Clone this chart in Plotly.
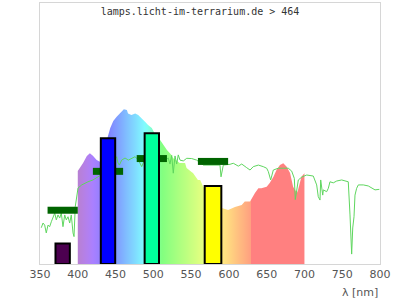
import plotly.graph_objects as go

# ---------------- data ----------------
# lamp spectrum (relative, 0..100)
lamp_nm = [400, 403, 407, 412, 416, 420, 425, 430, 435, 440, 443, 447, 451.5, 456, 461, 465,
           466.5, 471, 476, 480, 484.6, 489, 493, 498, 504, 509, 518, 524, 526, 535, 542, 544,
           551, 552.5, 559, 562, 566, 575, 583, 590.5, 599, 608, 617, 621, 628, 634.5, 639,
           643, 650, 654, 659, 663, 667.6, 672, 676.5, 681, 685, 690, 691.5, 696, 700]
lamp_val = [35.6, 36.8, 38.7, 41.4, 42.4, 41.5, 39.8, 39.1, 43.7, 49.0, 52.1, 54.8, 56.4, 57.9,
            59.3, 59.0, 57.7, 57.1, 57.7, 57.1, 55.9, 54.5, 53.3, 52.1, 48.8, 47.5, 43.7, 41.8,
            40.6, 38.7, 38.7, 36.8, 35.2, 34.9, 32.2, 32.2, 29.6, 26.4, 23.8, 21.5, 20.7, 21.8,
            22.6, 23.9, 23.9, 27.2, 29.0, 29.0, 29.6, 31.0, 33.4, 36.0, 37.9, 38.6, 37.3, 34.9,
            29.6, 27.2, 28.4, 33.4, 34.8]

# reference (sun) spectrum
sun_nm = [351.7, 354, 356.2, 358.3, 360.6, 362.8, 365, 367.2, 369.5, 371.6, 373.8, 376.1, 378.2,
          380.4, 382.7, 384.8, 387.1, 389.3, 391.4, 393.7, 395, 396.7, 399, 400.3, 405.2, 409.6,
          413.5, 420.1, 425, 430, 440, 451.5, 453.2, 455, 458.1, 462.5, 466.9, 471.4, 475.7,
          480, 484.6, 490, 500, 512.8, 519.8, 522, 524.3, 526.4, 528.7, 530.9, 533, 535.3,
          539.7, 544.2, 550.8, 557.4, 566.1, 575, 588.2, 589.6, 592.6, 601.5, 605.8, 612.5, 617,
          623.6, 628, 632.3, 639, 645.5, 650, 652.2, 655.3, 658.8, 665.4, 672, 678.6, 683.1,
          686.6, 687.9, 691.9, 696.4, 703, 711.7, 716.2, 718.3, 720.6, 721.5, 722.8, 724.2, 725,
          729.4, 731.6, 733.8, 738.2, 742.7, 749.3, 758, 760.3, 761.6, 762.5, 763.9, 765.6,
          766.9, 769.1, 771.3, 777.9, 784.5, 789, 793.4, 799.1]
sun_val = [13.9, 15.7, 14.9, 11.9, 14.9, 14.3, 16.2, 18.1, 19.5, 16.9, 18.8, 17.6, 19.5,
           14.3, 18.8, 16.9, 18.1, 15.7, 18.8, 11.9, 10.5, 22.0, 27.2, 29.1, 30.3, 31.0,
           31.5, 32.2, 33.0, 34.0, 36.0, 41.1, 38.7, 37.9, 39.8, 40.6, 39.8, 40.6, 41.1,
           40.0, 37.3, 41.0, 41.0, 39.2, 40.6, 38.3, 41.6, 34.8, 41.4, 38.3, 41.8, 39.8,
           39.5, 40.5, 40.4, 39.8, 37.9, 37.9, 37.9, 33.4, 37.9, 38.2, 38.6, 37.5, 38.3,
           36.9, 36.0, 37.3, 37.9, 37.3, 36.7, 35.4, 32.2, 36.0, 36.7, 36.7, 36.7, 35.6,
           32.8, 24.7, 32.2, 33.3, 34.1, 33.7, 30.3, 25.8, 24.5, 32.2, 29.0, 26.4, 28.4,
           27.7, 29.0, 31.5, 31.1, 31.8, 32.2, 31.5, 18.8, 5.4, 3.8, 13.8, 18.1,
           26.4, 29.0, 30.3, 30.3, 29.9, 29.0, 28.4, 28.6]

# LED bars
bar_nm = [380, 440, 498, 579]
bar_val = [7.9, 48.2, 50.1, 29.9]
bar_width = [19, 19, 19, 22]
bar_colors = ["#4c0050", "#0000ff", "#00ff9c", "#ffff00"]

# horizontal markers (+/- half width around each bar)
seg_half = 20
seg_val = [20.6, 35.5, 40.4, 39.3]

x_ticks = [350, 400, 450, 500, 550, 600, 650, 700, 750, 800]
title_text = "lamps.licht-im-terrarium.de > 464"
x_label = "λ [nm]"


# ---------------- colours ----------------
def wl_color(l):
    if l >= 629:
        return "rgb(255,128,128)"
    if l < 440:
        r, g, b = -(l - 440) / 60, 0.0, 1.0
    elif l < 490:
        r, g, b = 0.0, (l - 440) / 50, 1.0
    elif l < 510:
        r, g, b = 0.0, 1.0, -(l - 510) / 20
    elif l < 580:
        r, g, b = (l - 510) / 70, 1.0, 0.0
    elif l < 645:
        r, g, b = 1.0, -(l - 645) / 65, 0.0
    else:
        r, g, b = 1.0, 0.0, 0.0
    f = 0.3 + 0.7 * (l - 380) / 40 if l < 420 else 1.0
    c = [int(round(255 * (0.5 + 0.5 * v * f))) for v in (r, g, b)]
    return "rgb(%d,%d,%d)" % tuple(c)


stops = []
lam = 400
while lam <= 628:
    stops.append([(lam - 400) / 300, wl_color(lam)])
    lam += 4
stops.append([(628.9 - 400) / 300, wl_color(628.9)])
stops.append([(629 - 400) / 300, wl_color(629)])
stops.append([1.0, wl_color(700)])

fig = go.Figure()

fig.add_trace(go.Scatter(
    x=lamp_nm, y=lamp_val, mode="lines", line=dict(width=0),
    fill="tozeroy",
    fillgradient=dict(type="horizontal", colorscale=stops, start=400, stop=700),
    hoverinfo="skip", showlegend=False))

fig.add_trace(go.Scatter(
    x=sun_nm, y=sun_val, mode="lines", line=dict(color="#5fd65f", width=1),
    showlegend=False))

for c, v in zip(bar_nm, seg_val):
    fig.add_trace(go.Scatter(
        x=[c - seg_half, c + seg_half], y=[v, v], mode="lines",
        line=dict(color="#006400", width=7), showlegend=False))

fig.add_trace(go.Bar(
    x=bar_nm, y=bar_val, width=bar_width, xaxis="x2", yaxis="y2",
    marker=dict(color=bar_colors, line=dict(color="black", width=2)),
    showlegend=False))

fig.update_layout(
    width=400, height=300,
    margin=dict(l=40, r=20, t=3, b=36),
    paper_bgcolor="white", plot_bgcolor="white",
    title=dict(text=title_text, x=0.5, xref="container", xanchor="center",
               y=1 - 11 / 300, yref="container", yanchor="middle",
               font=dict(family="DejaVu Sans Mono", size=10, color="#333")),
    xaxis=dict(range=[350, 800], tickvals=x_ticks, showgrid=False, zeroline=False,
               showline=True, mirror=True, linecolor="#d6d6d6", linewidth=1,
               ticks="", tickfont=dict(family="DejaVu Sans", size=11, color="#555")),
    yaxis=dict(range=[0, 100], showticklabels=False, showgrid=False, zeroline=False,
               showline=True, mirror=True, linecolor="#d6d6d6", linewidth=1, ticks=""),
    xaxis2=dict(range=[350, 800], overlaying="x", visible=False),
    yaxis2=dict(range=[0, 100], overlaying="y", visible=False),
    annotations=[dict(text=x_label, xref="paper", yref="paper", x=1, y=0,
                      xanchor="right", yanchor="middle", yshift=-28, showarrow=False,
                      font=dict(family="DejaVu Sans", size=11, color="#555"))],
)

fig.write_html("out.html")
